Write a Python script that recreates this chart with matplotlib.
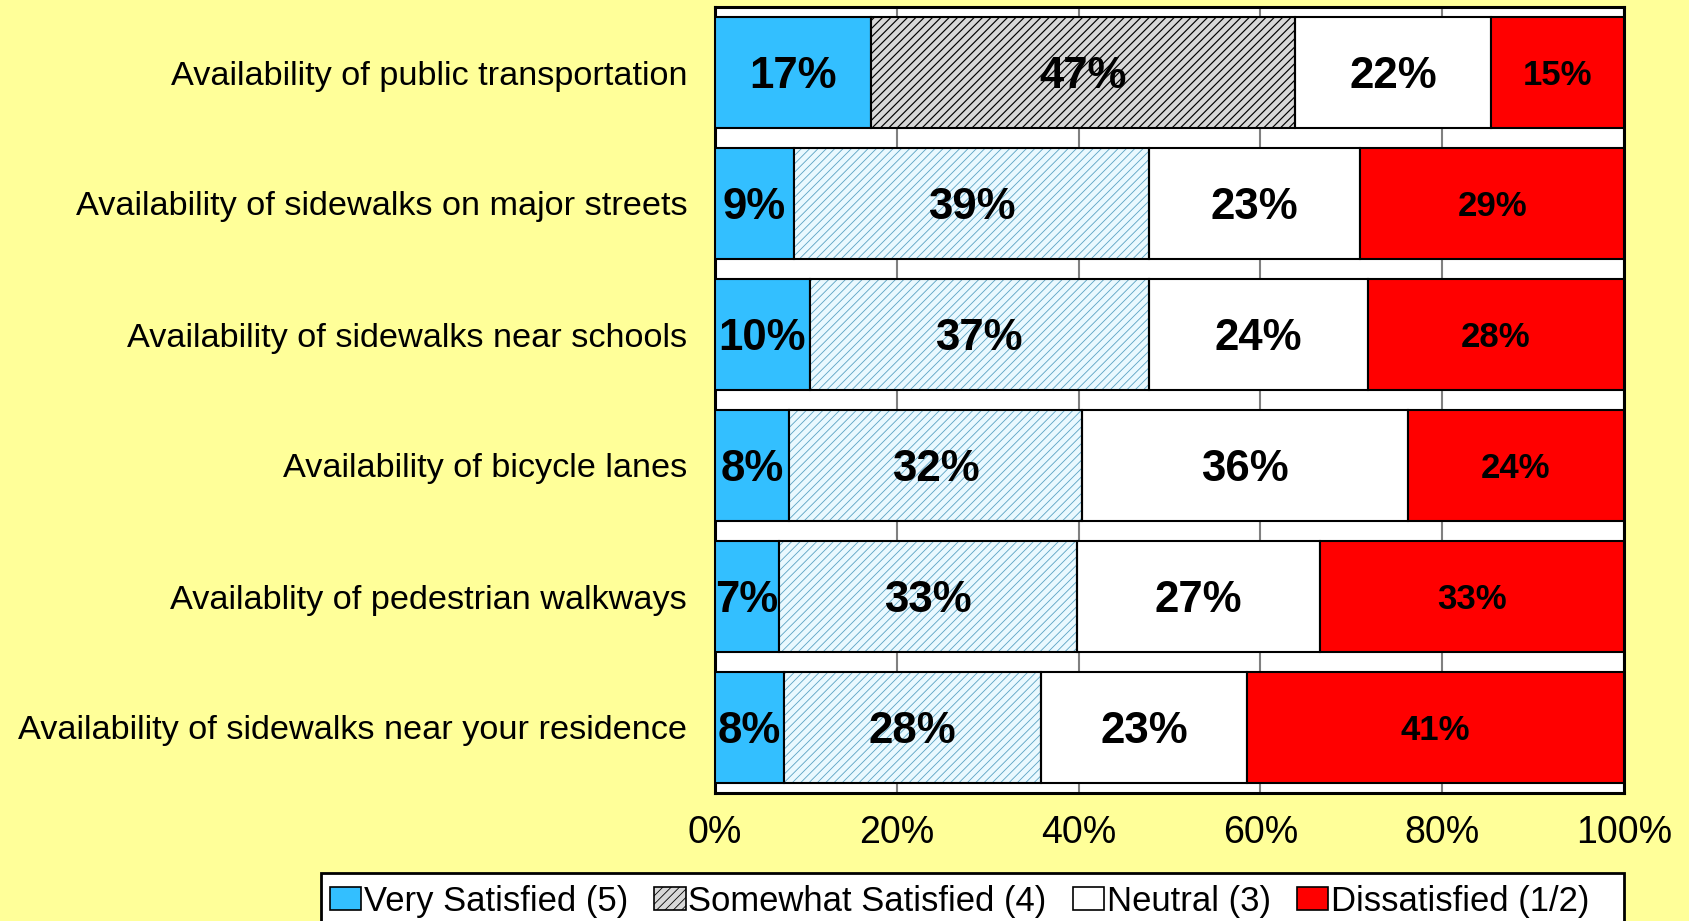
import matplotlib
matplotlib.use("Agg")
import matplotlib.pyplot as plt
from matplotlib.patches import Patch, Rectangle
import numpy as np

plt.rcParams['font.family'] = ['Liberation Sans', 'DejaVu Sans']
plt.rcParams['hatch.linewidth'] = 0.6

categories = [
    "Availability of public transportation",
    "Availability of sidewalks on major streets",
    "Availability of sidewalks near schools",
    "Availability of bicycle lanes",
    "Availablity of pedestrian walkways",
    "Availability of sidewalks near your residence",
]
very_satisfied = [17.2, 8.65, 10.4, 8.1, 7.0, 7.6]
somewhat_satisfied = [46.7, 39.1, 37.3, 32.3, 32.8, 28.2]
neutral = [21.6, 23.2, 24.1, 35.8, 26.8, 22.7]
dissatisfied = [14.6, 29.0, 28.2, 23.8, 33.4, 41.4]
series_names = ["Very Satisfied (5)", "Somewhat Satisfied (4)", "Neutral (3)", "Dissatisfied (1/2)"]
xtick_labels = ["0%", "20%", "40%", "60%", "80%", "100%"]

BLUE = "#33BFFF"
RED = "#FF0000"
BG = "#FFFF99"

fig = plt.figure(figsize=(16.9, 9.21), dpi=100, facecolor=BG)
ax = fig.add_axes([715/1690, 128/921, (1624-715)/1690, (914-128)/921])
ax.set_facecolor("white")

data = np.array([very_satisfied, somewhat_satisfied, neutral, dissatisfied], dtype=float)
data = data / data.sum(axis=0) * 100
y = np.arange(len(categories))
h = 0.84
left = np.zeros(len(categories))

ax.barh(y, data[0], left=left, height=h, color=BLUE, edgecolor="black", linewidth=1.5, zorder=3)
left1 = left + data[0]
for i in range(len(categories)):
    hc = "#000000" if i == 0 else "#5AA3C3"
    fc = "#D8D8D8" if i == 0 else "#EAF9FF"
    bars = ax.barh(y[i], data[1][i], left=left1[i], height=h, color=fc, edgecolor=hc,
                   hatch="////", linewidth=0, zorder=3)
    if i == 0:
        for b in bars:
            try:
                b.set_hatch_linewidth(0.85)
            except AttributeError:
                pass
ax.barh(y, data[1], left=left1, height=h, color="none", edgecolor="black", linewidth=1.5, zorder=4)
left2 = left1 + data[1]
ax.barh(y, data[2], left=left2, height=h, color="white", edgecolor="black", linewidth=1.5, zorder=3)
left3 = left2 + data[2]
ax.barh(y, data[3], left=left3, height=h, color=RED, edgecolor="black", linewidth=1.5, zorder=3)

lefts = [left, left1, left2, left3]
raw = [very_satisfied, somewhat_satisfied, neutral, dissatisfied]
for s in range(4):
    for i in range(len(categories)):
        cx = lefts[s][i] + data[s][i] / 2
        fs = 25 if s == 3 else 31.5
        ax.annotate(f"{round(raw[s][i]):d}%", xy=(cx, y[i]), xytext=(0, -0.358 * fs),
                    textcoords="offset points", ha="center", va="baseline",
                    fontsize=fs, fontweight="bold", color="black", zorder=5)

ax.set_xlim(0, 100)
ax.set_ylim(len(categories) - 0.5, -0.5)
ax.set_xticks([0, 20, 40, 60, 80, 100])
ax.set_xticklabels(xtick_labels, fontsize=27)
ax.set_yticks(y)
ax.set_yticklabels(categories, fontsize=24.7)
ax.tick_params(axis="both", length=0)
ax.tick_params(axis="y", pad=20)
ax.tick_params(axis="x", pad=16)
ax.xaxis.grid(True, color="#808080", linewidth=1.5, zorder=0)
ax.set_axisbelow(True)
for sp in ax.spines.values():
    sp.set_linewidth(2.2)
    sp.set_color("black")

# legend box
fig.add_artist(Rectangle((321/1690, -0.05), (1624-321)/1690, 0.05 + (921-873)/921,
                         transform=fig.transFigure, facecolor="white", edgecolor="black",
                         linewidth=2, zorder=1))
handles = [
    Patch(facecolor=BLUE, edgecolor="black", linewidth=1.2),
    Patch(facecolor="#D8D8D8", edgecolor="black", hatch="////", linewidth=1.2),
    Patch(facecolor="white", edgecolor="black", linewidth=1.2),
    Patch(facecolor=RED, edgecolor="black", linewidth=1.2),
]
leg = fig.legend(handles, series_names, loc="center left", bbox_to_anchor=(330/1690, 1 - 901/921),
                 ncol=4, fontsize=24.9, frameon=False, handlelength=0.9, handleheight=0.65,
                 handletextpad=0.08, columnspacing=0.76, borderpad=0, borderaxespad=0)
leg.set_zorder(2)

fig.savefig("out.png", dpi=100, facecolor=BG)
